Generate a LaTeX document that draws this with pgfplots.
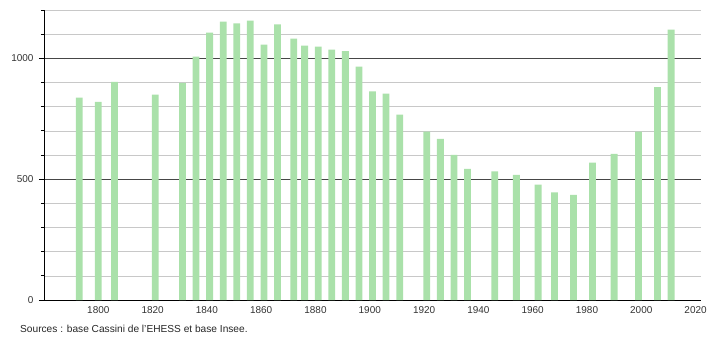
\documentclass[border=0pt]{standalone}
\usepackage{pgfplots}
\pgfplotsset{compat=1.18}
\usepackage{fontspec}
\setmainfont{Liberation Sans}
\definecolor{barg}{RGB}{170,225,170}
\definecolor{mingrid}{RGB}{200,200,200}
\definecolor{majgrid}{RGB}{70,70,70}
\begin{document}
\begin{tikzpicture}
\useasboundingbox (0,0) rectangle (710bp,340bp);
\begin{axis}[
  at={(44bp,40bp)}, anchor=south west,
  width=657bp, height=290bp, scale only axis,
  xmin=1780, xmax=2022, ymin=0, ymax=1200,
  axis x line*=bottom, axis y line*=left,
  axis line style={black, line width=0.8pt, -},
  xtick={1800,1820,...,2020},
  x tick style={draw=none},
  xticklabel style={font=\fontsize{10}{12}\selectfont, text=black!80, yshift=2pt},
  yticklabel style={font=\fontsize{10}{12}\selectfont, text=black!80, xshift=-2pt},
  /pgf/number format/1000 sep={},
  /pgf/number format/assume math mode=true,
  ytick={0,500,1000},
  minor ytick={100,200,300,400,600,700,800,900,1100,1200},
  tick align=outside,
  major tick length=5bp, minor tick length=3bp,
  y tick style={black, line width=0.7pt},
  ymajorgrids, yminorgrids,
  major grid style={majgrid, line width=0.6pt},
  minor grid style={mingrid, line width=0.6pt},
  ybar, bar width=6.8bp,
  clip=false,
]
\addplot[fill=barg, draw=none] coordinates {
(1793,837) (1800,820) (1806,903) (1821,850) (1831,898) (1836,1007)
(1841,1106) (1846,1152) (1851,1145) (1856,1156) (1861,1057) (1866,1140)
(1872,1082) (1876,1053) (1881,1048) (1886,1036) (1891,1030) (1896,966)
(1901,863) (1906,854) (1911,767) (1921,697) (1926,667) (1931,600)
(1936,543) (1946,532) (1954,518) (1962,477) (1968,445) (1975,435)
(1982,568) (1990,605) (1999,697) (2006,881) (2011,1119)
};
\end{axis}
\node[anchor=base west, font=\fontsize{10.2}{11}\selectfont, text=black!85, inner sep=0pt] at (20bp,8bp) {Sources : base Cassini de l'EHESS et base Insee.};
\end{tikzpicture}
\end{document}
